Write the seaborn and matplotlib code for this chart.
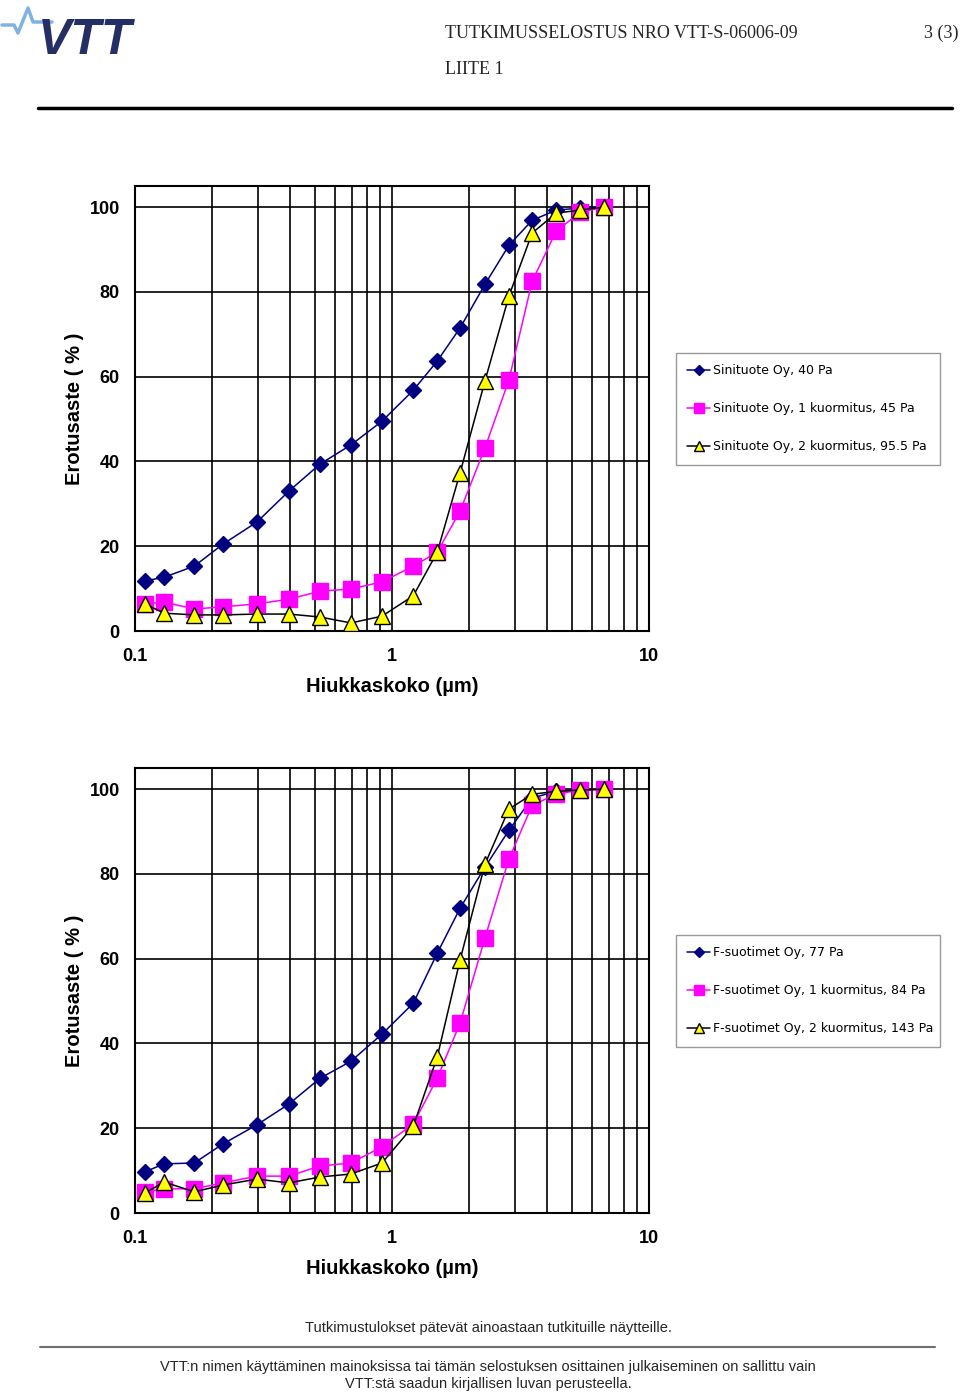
import matplotlib
matplotlib.use('Agg')
import matplotlib.pyplot as plt
import matplotlib.ticker as mticker
import seaborn as sns
import pandas as pd
import numpy as np

# particle sizes (um), same for all series
sizes = [0.109, 0.130, 0.170, 0.220, 0.298, 0.397, 0.525, 0.692, 0.914,
         1.21, 1.50, 1.84, 2.30, 2.85, 3.51, 4.35, 5.39, 6.68]

# top chart: Sinituote Oy
sini_40 = [11.8, 12.7, 15.3, 20.5, 25.7, 33.0, 39.4, 43.9, 49.5,
           56.8, 63.7, 71.5, 81.8, 91.0, 96.9, 99.3, 99.8, 100.0]
sini_45 = [6.4, 6.8, 5.2, 5.7, 6.4, 7.5, 9.4, 9.9, 11.6,
           15.3, 18.6, 28.3, 43.2, 59.2, 82.5, 94.3, 98.8, 100.0]
sini_95 = [6.4, 4.2, 3.8, 3.8, 4.0, 4.0, 3.3, 1.9, 3.5,
           8.3, 18.6, 37.3, 59.0, 79.0, 93.9, 98.6, 99.3, 100.0]
sini_labels = ['Sinituote Oy, 40 Pa',
               'Sinituote Oy, 1 kuormitus, 45 Pa',
               'Sinituote Oy, 2 kuormitus, 95.5 Pa']

# bottom chart: F-suotimet Oy
fsuo_77 = [9.7, 11.6, 11.8, 16.3, 20.8, 25.7, 31.8, 35.8, 42.2,
           49.5, 61.3, 71.9, 81.6, 90.3, 97.9, 99.5, 99.8, 100.0]
fsuo_84 = [5.0, 5.7, 5.7, 7.1, 8.7, 8.7, 11.1, 11.8, 15.6,
           21.0, 31.8, 44.8, 64.9, 83.5, 96.2, 98.8, 99.8, 100.0]
fsuo_143 = [4.7, 7.3, 5.0, 6.6, 8.0, 7.1, 8.5, 9.2, 11.8,
            20.5, 36.8, 59.7, 82.3, 95.3, 98.8, 99.5, 99.8, 100.0]
fsuo_labels = ['F-suotimet Oy, 77 Pa',
               'F-suotimet Oy, 1 kuormitus, 84 Pa',
               'F-suotimet Oy, 2 kuormitus, 143 Pa']

y_ticks = [0, 20, 40, 60, 80, 100]
x_ticks = [0.1, 1, 10]
x_ticklabels = ['0.1', '1', '10']

line_colors = ['#000080', '#ff00ff', '#000000']
face_colors = ['#000080', '#ff00ff', '#ffff00']
edge_colors = ['#000080', '#ff00ff', '#000000']
markers = ['D', 's', '^']
msizes = [8, 11, 11]

W, H = 960, 1392


def draw_chart(ax, series, labels, legend_top):
    for vals, lab, lc, fc, ec, mk, ms in zip(series, labels, line_colors,
                                             face_colors, edge_colors, markers, msizes):
        df = pd.DataFrame({'size': sizes, 'pct': vals})
        sns.lineplot(data=df, x='size', y='pct', ax=ax, color=lc, lw=1.1,
                     marker=mk, markersize=ms, markerfacecolor=fc,
                     markeredgecolor=ec, markeredgewidth=1.0,
                     label=lab, legend=False, zorder=3)
    ax.set_xscale('log')
    ax.set_xlim(0.1, 10)
    ax.set_ylim(0, 105)
    minors = [m * d for d in (0.1, 1) for m in range(2, 10)]
    for v in minors + [1]:
        ax.axvline(v, color='black', lw=1.2, zorder=1)
    for v in y_ticks[1:]:
        ax.axhline(v, color='black', lw=1.2, zorder=1)
    ax.xaxis.set_major_locator(mticker.FixedLocator(x_ticks))
    ax.xaxis.set_major_formatter(mticker.FixedFormatter(x_ticklabels))
    ax.xaxis.set_minor_locator(mticker.NullLocator())
    ax.set_yticks(y_ticks)
    ax.set_yticklabels([str(v) for v in y_ticks])
    ax.tick_params(axis='both', length=4, width=1.2, color='black',
                   labelcolor='black', labelsize=13, direction='out')
    ax.tick_params(axis='y', pad=7)
    ax.tick_params(axis='x', pad=8)
    for lbl in ax.get_xticklabels() + ax.get_yticklabels():
        lbl.set_fontweight('bold')
        lbl.set_fontfamily('Liberation Sans')
    for s in ax.spines.values():
        s.set_color('black')
        s.set_linewidth(1.5)
    ax.set_xlabel('Hiukkaskoko (µm)', fontsize=14.5, fontweight='bold',
                  family='Liberation Sans', labelpad=9, color='black')
    ax.set_ylabel('Erotusaste ( % )', fontsize=14.5, fontweight='bold',
                  family='Liberation Sans', labelpad=4, color='black')
    ax.set_facecolor('white')

    handles = [plt.Line2D([], [], color=lc, lw=1.1, marker=mk, markersize=ms * 0.7,
                          markerfacecolor=fc, markeredgecolor=ec)
               for lc, fc, ec, mk, ms in zip(line_colors, face_colors, edge_colors,
                                             markers, msizes)]
    x0, x1 = 676, 940
    leg = ax.figure.legend(handles, labels, loc='upper left',
                           bbox_to_anchor=(x0 / W, 1 - legend_top / H, (x1 - x0) / W, 0),
                           mode='expand', frameon=True, fancybox=False,
                           edgecolor='#808080', fontsize=9.0, handlelength=1.8,
                           handletextpad=0.25, labelspacing=2.0, borderpad=0.9,
                           borderaxespad=0, labelcolor='black')
    leg.get_frame().set_linewidth(1.0)


sns.set_style('white')
plt.rcParams['font.family'] = ['DejaVu Sans']

fig = plt.figure(figsize=(W / 100, H / 100), dpi=100)
fig.patch.set_facecolor('white')


def axes_rect(left, top, right, bottom):
    return [left / W, 1 - bottom / H, (right - left) / W, (bottom - top) / H]


ax1 = fig.add_axes(axes_rect(135, 186, 649, 631))
draw_chart(ax1, [sini_40, sini_45, sini_95], sini_labels, 353)

ax2 = fig.add_axes(axes_rect(135, 768, 649, 1213))
draw_chart(ax2, [fsuo_77, fsuo_84, fsuo_143], fsuo_labels, 935)

# header
fig.text(445 / W, 1 - 33 / H, 'TUTKIMUSSELOSTUS NRO VTT-S-06006-09', fontsize=13,
         family='Liberation Serif', va='center', ha='left')
fig.text(958 / W, 1 - 33 / H, '3 (3)', fontsize=13, family='Liberation Serif',
         va='center', ha='right')
fig.text(445 / W, 1 - 69 / H, 'LIITE 1', fontsize=13, family='Liberation Serif',
         va='center', ha='left')
fig.text(38 / W, 1 - 41 / H, 'VTT', fontsize=36, fontweight='bold', style='italic',
         color='#252f66', family='Liberation Sans', va='center', ha='left')
fig.add_artist(plt.Line2D(np.array([2, 14, 18, 28, 33, 52]) / W,
                          1 - np.array([25, 25, 33, 8, 22, 22]) / H,
                          color='#7fb2e0', lw=2.5))
fig.add_artist(plt.Line2D([38 / W, 952 / W], [1 - 108 / H, 1 - 108 / H],
                          color='black', lw=2.5))

# footer
fig.text(488 / W, 1 - 1328 / H, 'Tutkimustulokset pätevät ainoastaan tutkituille näytteille.',
         fontsize=10.5, family='Liberation Sans', ha='center', va='center')
fig.add_artist(plt.Line2D([40 / W, 935 / W], [1 - 1347 / H, 1 - 1347 / H],
                          color='#707070', lw=1.5))
fig.text(488 / W, 1 - 1367 / H,
         'VTT:n nimen käyttäminen mainoksissa tai tämän selostuksen osittainen julkaiseminen on sallittu vain',
         fontsize=10.5, family='Liberation Sans', ha='center', va='center')
fig.text(488 / W, 1 - 1384 / H, 'VTT:stä saadun kirjallisen luvan perusteella.',
         fontsize=10.5, family='Liberation Sans', ha='center', va='center')

fig.savefig('out.png', dpi=100, facecolor='white')
plt.close(fig)
